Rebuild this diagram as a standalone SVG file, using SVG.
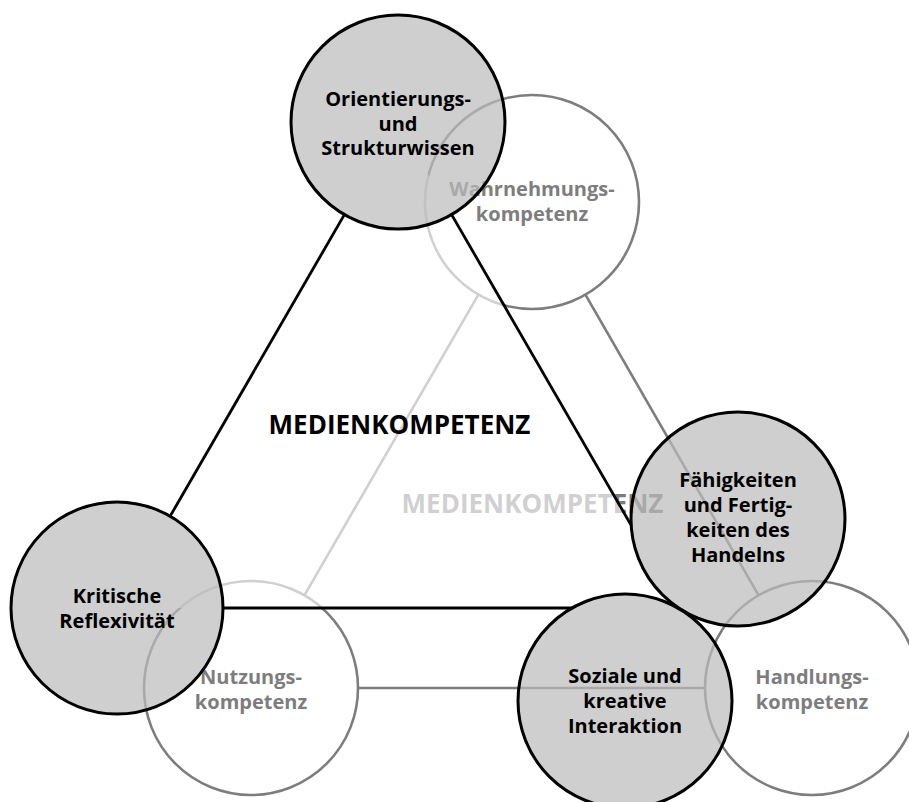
<svg xmlns="http://www.w3.org/2000/svg" width="909" height="802" viewBox="0 0 909 802">
<style>
.bl{fill:none;stroke:#7d7d7d;stroke-width:2.6}
.bc{fill:none;stroke:#7d7d7d;stroke-width:2.6}
.t{font-family:"Open Sans","Liberation Sans",sans-serif;font-weight:700;font-size:20px;text-anchor:middle}
.bt{fill:#7d7d7d}
.ft{fill:#000}
.big{font-size:26px}
.fc{fill:#bcbcbc;fill-opacity:0.708;stroke:#000;stroke-width:3}
.fl{fill:none;stroke:#000;stroke-width:2.8}
</style>
<rect width="909" height="802" fill="#fff"/>
<g id="back-connectors">
<line class="bl" x1="478.4" y1="294.6" x2="304.4" y2="595.4"/>
<line class="bl" x1="585.4" y1="294.7" x2="758.6" y2="595.3"/>
<line class="bl" x1="358" y1="688" x2="705" y2="688"/>
</g>
<g id="wahrnehmungskompetenz">
<circle class="bc" cx="532" cy="202" r="107"/>
<text class="t bt" x="532" y="196">Wahrnehmungs-</text>
<text class="t bt" x="532" y="221">kompetenz</text>
</g>
<g id="nutzungskompetenz">
<circle class="bc" cx="251" cy="688" r="107"/>
<text class="t bt" x="251" y="684">Nutzungs-</text>
<text class="t bt" x="251" y="709">kompetenz</text>
</g>
<g id="handlungskompetenz">
<circle class="bc" cx="812" cy="688" r="107"/>
<text class="t bt" x="812" y="684">Handlungs-</text>
<text class="t bt" x="812" y="709">kompetenz</text>
</g>
<g id="back-title">
<text class="t bt big" x="532.5" y="513">MEDIENKOMPETENZ</text>
</g>
<polygon id="front-plane" points="398,122 117,608 679,608" fill="#fff" fill-opacity="0.638"/>
<g id="front-connectors">
<line class="fl" x1="344.4" y1="214.6" x2="170.6" y2="515.4"/>
<line class="fl" x1="451.6" y1="214.6" x2="631.3" y2="525.5"/>
<line class="fl" x1="224" y1="608" x2="572.1" y2="608"/>
</g>
<g id="orientierung">
<circle class="fc" cx="398" cy="122" r="107"/>
<text class="t ft" x="398" y="106">Orientierungs-</text>
<text class="t ft" x="398" y="130.5">und</text>
<text class="t ft" x="398" y="155">Strukturwissen</text>
</g>
<g id="kritische-reflexivitaet">
<circle class="fc" cx="117" cy="608" r="106"/>
<text class="t ft" x="117" y="603">Kritische</text>
<text class="t ft" x="117" y="628">Reflexivität</text>
</g>
<g id="faehigkeiten">
<circle class="fc" cx="738" cy="519" r="107"/>
<text class="t ft" x="738" y="487">Fähigkeiten</text>
<text class="t ft" x="738" y="512">und Fertig-</text>
<text class="t ft" x="738" y="537">keiten des</text>
<text class="t ft" x="738" y="562">Handelns</text>
</g>
<g id="soziale-interaktion">
<circle class="fc" cx="625" cy="701" r="107"/>
<text class="t ft" x="625" y="683">Soziale und</text>
<text class="t ft" x="625" y="708">kreative</text>
<text class="t ft" x="625" y="733">Interaktion</text>
</g>
<g id="front-title">
<text class="t ft big" x="399.5" y="434">MEDIENKOMPETENZ</text>
</g>
</svg>
